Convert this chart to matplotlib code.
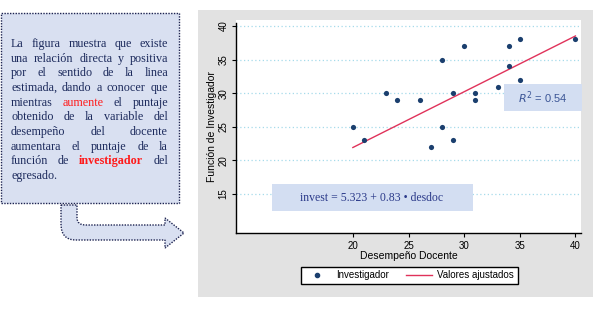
import matplotlib
matplotlib.use("Agg")
import matplotlib.pyplot as plt
import numpy as np
from matplotlib.patches import Rectangle, PathPatch
from matplotlib.path import Path
from matplotlib.lines import Line2D

W, H = 600, 323
fig = plt.figure(figsize=(W / 100, H / 100), dpi=100)
fig.patch.set_facecolor("white")

# data: teacher performance vs. researcher function score
desdoc = [20, 21, 23, 24, 26, 27, 28, 28, 29, 29, 30, 31, 31, 33, 34, 34, 35, 35, 40]
invest = [25, 23, 30, 29, 29, 22, 35, 25, 30, 23, 37, 30, 29, 31, 37, 34, 38, 32, 38]
intercept, slope = 5.323, 0.83
r2 = 0.54
xticks = [20, 25, 30, 35, 40]
yticks = [15, 20, 25, 30, 35, 40]

NAVY = "#1c2a5c"
DOT = "#1b3f6e"
RED = "#e0325a"


def px(x, y):
    # pixel (from top-left) -> figure fraction
    return x / W, 1 - y / H


# chart panel background
fig.patches.append(Rectangle(px(198, 297), 395 / W, 287 / H, transform=fig.transFigure,
                             facecolor="#e2e2e2", edgecolor="none", zorder=-5))

ax = fig.add_axes([236 / W, 1 - 233 / H, 345 / W, 213 / H])
ax.set_zorder(1)
ax.set_facecolor("white")
ax.set_xlim(9.5, 40.5)
ax.set_ylim(9.2, 40.9)
for s in ["top", "right"]:
    ax.spines[s].set_visible(False)
ax.spines["left"].set_linewidth(1.0)
ax.spines["bottom"].set_linewidth(1.0)
ax.spines["left"].set_bounds(9.2, 40.5)
ax.set_xticks(xticks)
ax.set_yticks(yticks)
ax.tick_params(length=3, width=0.8, pad=2.5, labelsize=7, direction="out")
for lbl in ax.get_yticklabels():
    lbl.set_rotation(90)
    lbl.set_va("center")
for lbl in ax.get_xticklabels() + ax.get_yticklabels():
    lbl.set_family("Liberation Sans")
ax.grid(axis="y", color="#a6dbea", linestyle=(0, (1, 2)), linewidth=0.9)
ax.set_axisbelow(True)

ax.scatter(desdoc, invest, s=14, color=DOT, zorder=3, linewidths=0)
xf = np.array([min(desdoc), max(desdoc)])
ax.plot(xf, intercept + slope * xf, color=RED, linewidth=1.0, zorder=2)

ax.set_xlabel("Desempeño Docente", fontsize=7.5, family="Liberation Sans", labelpad=0)
ax.set_ylabel("Función de Investigador", fontsize=7.5, family="Liberation Sans", labelpad=1)

# annotation boxes inside the plot
fig.patches.append(Rectangle(px(504, 111), 78 / W, 27 / H, transform=fig.transFigure,
                             facecolor="#d3def2", edgecolor="none", zorder=3))
fig.text(*px(543, 98), f"$R^2$ = {r2:.2f}", fontsize=8, color="#3b5596",
         family="Liberation Sans", ha="center", va="center", zorder=4)
fig.patches.append(Rectangle(px(272, 211), 201 / W, 27 / H, transform=fig.transFigure,
                             facecolor="#d3def2", edgecolor="none", zorder=3))
fig.text(*px(372, 198), f"invest = {intercept} + {slope} • desdoc", fontsize=8.5,
         color="#2b3a8a", family="Liberation Serif", ha="center", va="center", zorder=4)

# legend
handles = [Line2D([], [], marker="o", linestyle="none", color=DOT, markersize=3.0),
           Line2D([], [], color=RED, linewidth=1.0)]
leg = fig.legend(handles, ["Investigador", "Valores ajustados"], loc="center",
                 bbox_to_anchor=px(409.5, 275.5), ncol=2,
                 prop={"family": "Liberation Sans", "size": 7}, frameon=True,
                 fancybox=False, framealpha=1, edgecolor="black", handlelength=2.6,
                 handletextpad=0.6, columnspacing=1.8, borderpad=0.35, borderaxespad=0)
leg.get_frame().set_linewidth(1.0)
leg.set_zorder(5)

# left note box
fig.patches.append(Rectangle(px(1, 203), 178 / W, 190 / H, transform=fig.transFigure,
                             facecolor="#d9e0f1", edgecolor="#1c2250", linewidth=1.0,
                             linestyle=(0, (1, 1)), zorder=1))

lines = [
    [("La", NAVY, "normal"), ("figura", NAVY, "normal"), ("muestra", NAVY, "normal"),
     ("que", NAVY, "normal"), ("existe", NAVY, "normal")],
    [("una", NAVY, "normal"), ("relación", NAVY, "normal"), ("directa", NAVY, "normal"),
     ("y", NAVY, "normal"), ("positiva", NAVY, "normal")],
    [("por", NAVY, "normal"), ("el", NAVY, "normal"), ("sentido", NAVY, "normal"),
     ("de", NAVY, "normal"), ("la", NAVY, "normal"), ("linea", NAVY, "normal")],
    [("estimada,", NAVY, "normal"), ("dando", NAVY, "normal"), ("a", NAVY, "normal"),
     ("conocer", NAVY, "normal"), ("que", NAVY, "normal")],
    [("mientras", NAVY, "normal"), ("aumente", "#ff1a1a", "normal"), ("el", NAVY, "normal"),
     ("puntaje", NAVY, "normal")],
    [("obtenido", NAVY, "normal"), ("de", NAVY, "normal"), ("la", NAVY, "normal"),
     ("variable", NAVY, "normal"), ("del", NAVY, "normal")],
    [("desempeño", NAVY, "normal"), ("del", NAVY, "normal"), ("docente", NAVY, "normal")],
    [("aumentara", NAVY, "normal"), ("el", NAVY, "normal"), ("puntaje", NAVY, "normal"),
     ("de", NAVY, "normal"), ("la", NAVY, "normal")],
    [("función", NAVY, "normal"), ("de", NAVY, "normal"), ("investigador", "#ff1a1a", "bold"),
     ("del", NAVY, "normal")],
    [("egresado.", NAVY, "normal")],
]

# justified paragraph: place every word so each line spans the full width
renderer = fig.canvas.get_renderer()
x0, x1 = 11, 168
y_first, step = 47, 14.65
for i, words in enumerate(lines):
    yy = y_first + i * step
    texts = [fig.text(0, 1 - yy / H, w, fontsize=8.7, color=c, fontweight=fw,
                      family="Liberation Serif", va="baseline", ha="left", zorder=2)
             for w, c, fw in words]
    widths = [t.get_window_extent(renderer).width for t in texts]
    if i == len(lines) - 1 or len(texts) == 1:
        gap = 2.5
    else:
        gap = (x1 - x0 - sum(widths)) / (len(texts) - 1)
    cur = x0
    for t, wd in zip(texts, widths):
        t.set_x(cur / W)
        cur += wd + gap

# bent arrow below the note box
verts = [px(61, 205), px(77, 205), px(77, 218), px(77, 225), px(86, 225),
         px(165, 225), px(165, 218), px(184, 233), px(165, 248), px(165, 240),
         px(76, 240), px(61, 240), px(61, 224), px(61, 205)]
codes = [Path.MOVETO, Path.LINETO, Path.LINETO, Path.CURVE3, Path.CURVE3,
         Path.LINETO, Path.LINETO, Path.LINETO, Path.LINETO, Path.LINETO,
         Path.LINETO, Path.CURVE3, Path.CURVE3, Path.CLOSEPOLY]
arrow = PathPatch(Path(verts, codes), transform=fig.transFigure,
                  facecolor="#d9e0f1", edgecolor="#1c2250", linewidth=1.0,
                  linestyle=(0, (1, 1)), zorder=1)
fig.patches.append(arrow)

fig.savefig("out.png", dpi=100, facecolor="white")
